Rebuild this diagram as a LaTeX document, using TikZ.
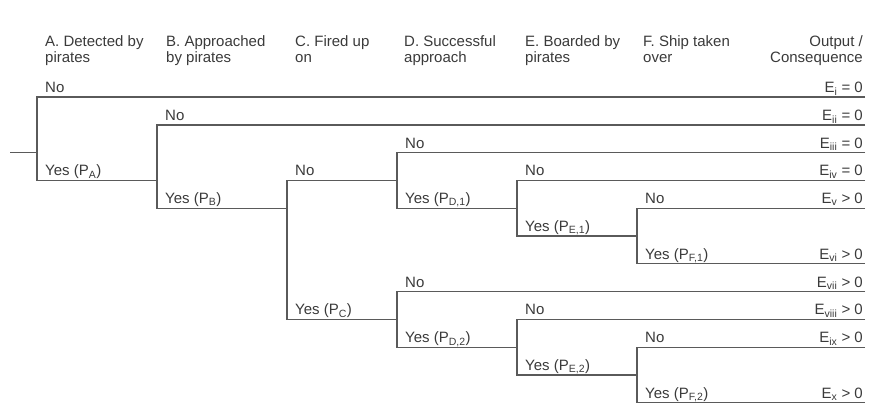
\documentclass[tikz,border=0pt]{standalone}
\usepackage{fontspec}
\setmainfont{Liberation Sans}
\definecolor{ink}{HTML}{3A3A3A}
\definecolor{wire}{HTML}{5A5A5A}
\begin{document}
\begin{tikzpicture}[x=1pt,y=-1pt,
  branch/.style={draw=wire, line width=1.2pt, line join=miter},
  lbl/.style={anchor=base west, inner sep=0pt, text=ink, font=\fontsize{15}{16}\selectfont},
  outlbl/.style={anchor=base east, inner sep=0pt, text=ink, font=\fontsize{15}{16}\selectfont},
  hdr/.style={anchor=base west, inner sep=0pt, text=ink, align=left, font=\fontsize{15}{16}\selectfont},
  hdrr/.style={anchor=base east, inner sep=0pt, text=ink, align=right, font=\fontsize{15}{16}\selectfont}]
\useasboundingbox (0,0) rectangle (873,406);

% column headers (anchored at the baseline of their last line)
\node[hdr] (hA) at (45,63) {A. Detected by\\pirates};
\node[hdr] (hB) at (166,63) {B. Approached\\by pirates};
\node[hdr] (hC) at (295,63) {C. Fired up\\on};
\node[hdr] (hD) at (404,63) {D. Successful\\approach};
\node[hdr] (hE) at (525,63) {E. Boarded by\\pirates};
\node[hdr] (hF) at (643,63) {F. Ship taken\\over};
\node[hdrr] (hO) at (863,63) {Output /\\Consequence};

% branch points (top = "No", bottom = "Yes")
\coordinate (s)   at (10,152.6);
\coordinate (aT)  at (37,97);    \coordinate (aB)  at (37,180.4);
\coordinate (bT)  at (157,125);  \coordinate (bB)  at (157,208.2);
\coordinate (cT)  at (287,180.4);\coordinate (cB)  at (287,319.4);
\coordinate (d1T) at (397,152.6);\coordinate (d1B) at (397,208.2);
\coordinate (e1T) at (517,180.4);\coordinate (e1B) at (517,236);
\coordinate (f1T) at (637,208.2);\coordinate (f1B) at (637,263.8);
\coordinate (d2T) at (397,291.6);\coordinate (d2B) at (397,347.2);
\coordinate (e2T) at (517,319.4);\coordinate (e2B) at (517,375);
\coordinate (f2T) at (637,347.2);\coordinate (f2B) at (637,402.8);

% outcome ends
\coordinate (o1)  at (865,97);
\coordinate (o2)  at (865,125);
\coordinate (o3)  at (865,152.6);
\coordinate (o4)  at (865,180.4);
\coordinate (o5)  at (865,208.2);
\coordinate (o6)  at (865,263.8);
\coordinate (o7)  at (865,291.6);
\coordinate (o8)  at (865,319.4);
\coordinate (o9)  at (865,347.2);
\coordinate (o10) at (865,402.8);

% tree
\draw[branch] (s) -- (s -| aT);
\draw[branch] (o1) -- (aT) -- (aB) -- (aB -| bT);
\draw[branch] (o2) -- (bT) -- (bB) -- (bB -| cT);
\draw[branch] (d1T |- cT) -- (cT) -- (cB) -- (cB -| d2T);
\draw[branch] (o3) -- (d1T) -- (d1B) -- (d1B -| e1T);
\draw[branch] (o4) -- (e1T) -- (e1B) -- (e1B -| f1T);
\draw[branch] (o5) -- (f1T) -- (f1B) -- (o6);
\draw[branch] (o7) -- (d2T) -- (d2B) -- (d2B -| e2T);
\draw[branch] (o8) -- (e2T) -- (e2B) -- (e2B -| f2T);
\draw[branch] (o9) -- (f2T) -- (f2B) -- (o10);

% branch labels
\node[lbl] (nA)  at ([shift={(8,-4.5)}]aT)  {No};
\node[lbl] (yA)  at ([shift={(8,-4.5)}]aB)  {Yes (P\textsubscript{A})};
\node[lbl] (nB)  at ([shift={(8,-4.5)}]bT)  {No};
\node[lbl] (yB)  at ([shift={(8,-4.5)}]bB)  {Yes (P\textsubscript{B})};
\node[lbl] (nC)  at ([shift={(8,-4.5)}]cT)  {No};
\node[lbl] (yC)  at ([shift={(8,-4.5)}]cB)  {Yes (P\textsubscript{C})};
\node[lbl] (nD1) at ([shift={(8,-4.5)}]d1T) {No};
\node[lbl] (yD1) at ([shift={(8,-4.5)}]d1B) {Yes (P\textsubscript{D,1})};
\node[lbl] (nE1) at ([shift={(8,-4.5)}]e1T) {No};
\node[lbl] (yE1) at ([shift={(8,-4.5)}]e1B) {Yes (P\textsubscript{E,1})};
\node[lbl] (nF1) at ([shift={(8,-4.5)}]f1T) {No};
\node[lbl] (yF1) at ([shift={(8,-4.5)}]f1B) {Yes (P\textsubscript{F,1})};
\node[lbl] (nD2) at ([shift={(8,-4.5)}]d2T) {No};
\node[lbl] (yD2) at ([shift={(8,-4.5)}]d2B) {Yes (P\textsubscript{D,2})};
\node[lbl] (nE2) at ([shift={(8,-4.5)}]e2T) {No};
\node[lbl] (yE2) at ([shift={(8,-4.5)}]e2B) {Yes (P\textsubscript{E,2})};
\node[lbl] (nF2) at ([shift={(8,-4.5)}]f2T) {No};
\node[lbl] (yF2) at ([shift={(8,-4.5)}]f2B) {Yes (P\textsubscript{F,2})};

% consequences
\node[outlbl] (c1)  at ([shift={(-2,-4.5)}]o1)  {E\textsubscript{i} = 0};
\node[outlbl] (c2)  at ([shift={(-2,-4.5)}]o2)  {E\textsubscript{ii} = 0};
\node[outlbl] (c3)  at ([shift={(-2,-4.5)}]o3)  {E\textsubscript{iii} = 0};
\node[outlbl] (c4)  at ([shift={(-2,-4.5)}]o4)  {E\textsubscript{iv} = 0};
\node[outlbl] (c5)  at ([shift={(-2,-4.5)}]o5)  {E\textsubscript{v} > 0};
\node[outlbl] (c6)  at ([shift={(-2,-4.5)}]o6)  {E\textsubscript{vi} > 0};
\node[outlbl] (c7)  at ([shift={(-2,-4.5)}]o7)  {E\textsubscript{vii} > 0};
\node[outlbl] (c8)  at ([shift={(-2,-4.5)}]o8)  {E\textsubscript{viii} > 0};
\node[outlbl] (c9)  at ([shift={(-2,-4.5)}]o9)  {E\textsubscript{ix} > 0};
\node[outlbl] (c10) at ([shift={(-2,-4.5)}]o10) {E\textsubscript{x} > 0};
\end{tikzpicture}
\end{document}
